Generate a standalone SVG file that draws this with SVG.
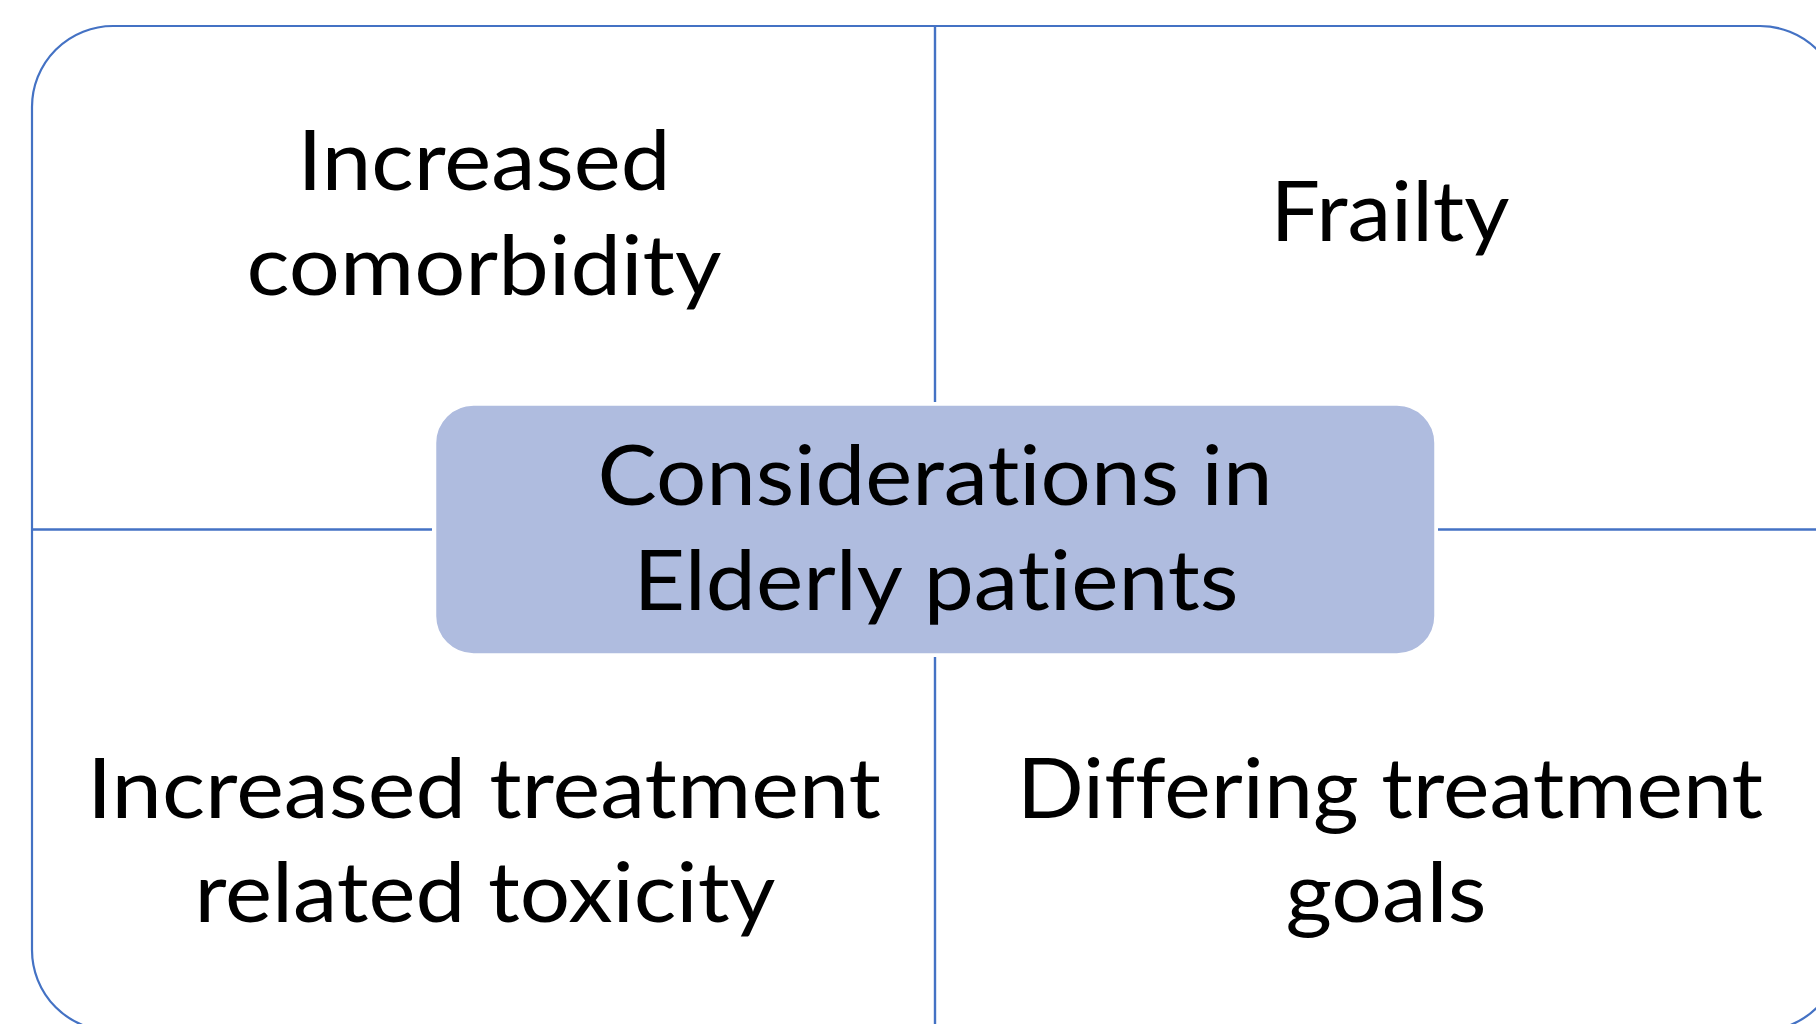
<svg xmlns="http://www.w3.org/2000/svg" width="1816" height="1024" viewBox="0 0 1816 1024">
  <style>
    .frame { fill: none; stroke: #4472C4; stroke-width: 2.2; }
    .divider { fill: none; stroke: #4472C4; stroke-width: 2.4; }
    .hub { fill: #AFBCDF; stroke: #FFFFFF; stroke-width: 1.5; }
    .label { font-family: Lato, "Open Sans", "Liberation Sans", sans-serif; font-size: 84px; fill: #000000; text-anchor: middle; font-variant-ligatures: none; font-feature-settings: "liga" 0, "clig" 0, "dlig" 0; }
  </style>
  <rect width="1816" height="1024" fill="#FFFFFF"/>

  <!-- outer rounded frame -->
  <rect id="frame" class="frame" x="32" y="26" width="1809" height="1005" rx="81" ry="81"/>

  <!-- quadrant dividers -->
  <g id="connectors">
    <line class="divider" x1="935" y1="26" x2="935" y2="402"/>
    <line class="divider" x1="935" y1="657" x2="935" y2="1031"/>
    <line class="divider" x1="32" y1="529.5" x2="432" y2="529.5"/>
    <line class="divider" x1="1438" y1="529.5" x2="1841" y2="529.5"/>
  </g>

  <g id="comorbidity">
    <text class="label" x="484" y="190" textLength="373" lengthAdjust="spacingAndGlyphs">Increased</text>
    <text class="label" x="484" y="295" textLength="475" lengthAdjust="spacingAndGlyphs">comorbidity</text>
  </g>

  <g id="frailty">
    <text class="label" x="1390" y="241" textLength="239" lengthAdjust="spacingAndGlyphs">Frailty</text>
  </g>

  <g id="toxicity">
    <text class="label" x="484" y="818" textLength="794" lengthAdjust="spacingAndGlyphs">Increased treatment</text>
    <text class="label" x="485" y="922" textLength="581" lengthAdjust="spacingAndGlyphs">related toxicity</text>
  </g>

  <g id="goals">
    <text class="label" x="1390" y="818" textLength="746" lengthAdjust="spacingAndGlyphs">Differing treatment</text>
    <text class="label" x="1386" y="922" textLength="201" lengthAdjust="spacingAndGlyphs">goals</text>
  </g>

  <g id="center">
    <rect class="hub" x="435.5" y="405" width="999.5" height="249" rx="38" ry="38"/>
    <text class="label" x="935" y="505" textLength="675" lengthAdjust="spacingAndGlyphs">Considerations in</text>
    <text class="label" x="936" y="610" textLength="605" lengthAdjust="spacingAndGlyphs">Elderly patients</text>
  </g>
</svg>
